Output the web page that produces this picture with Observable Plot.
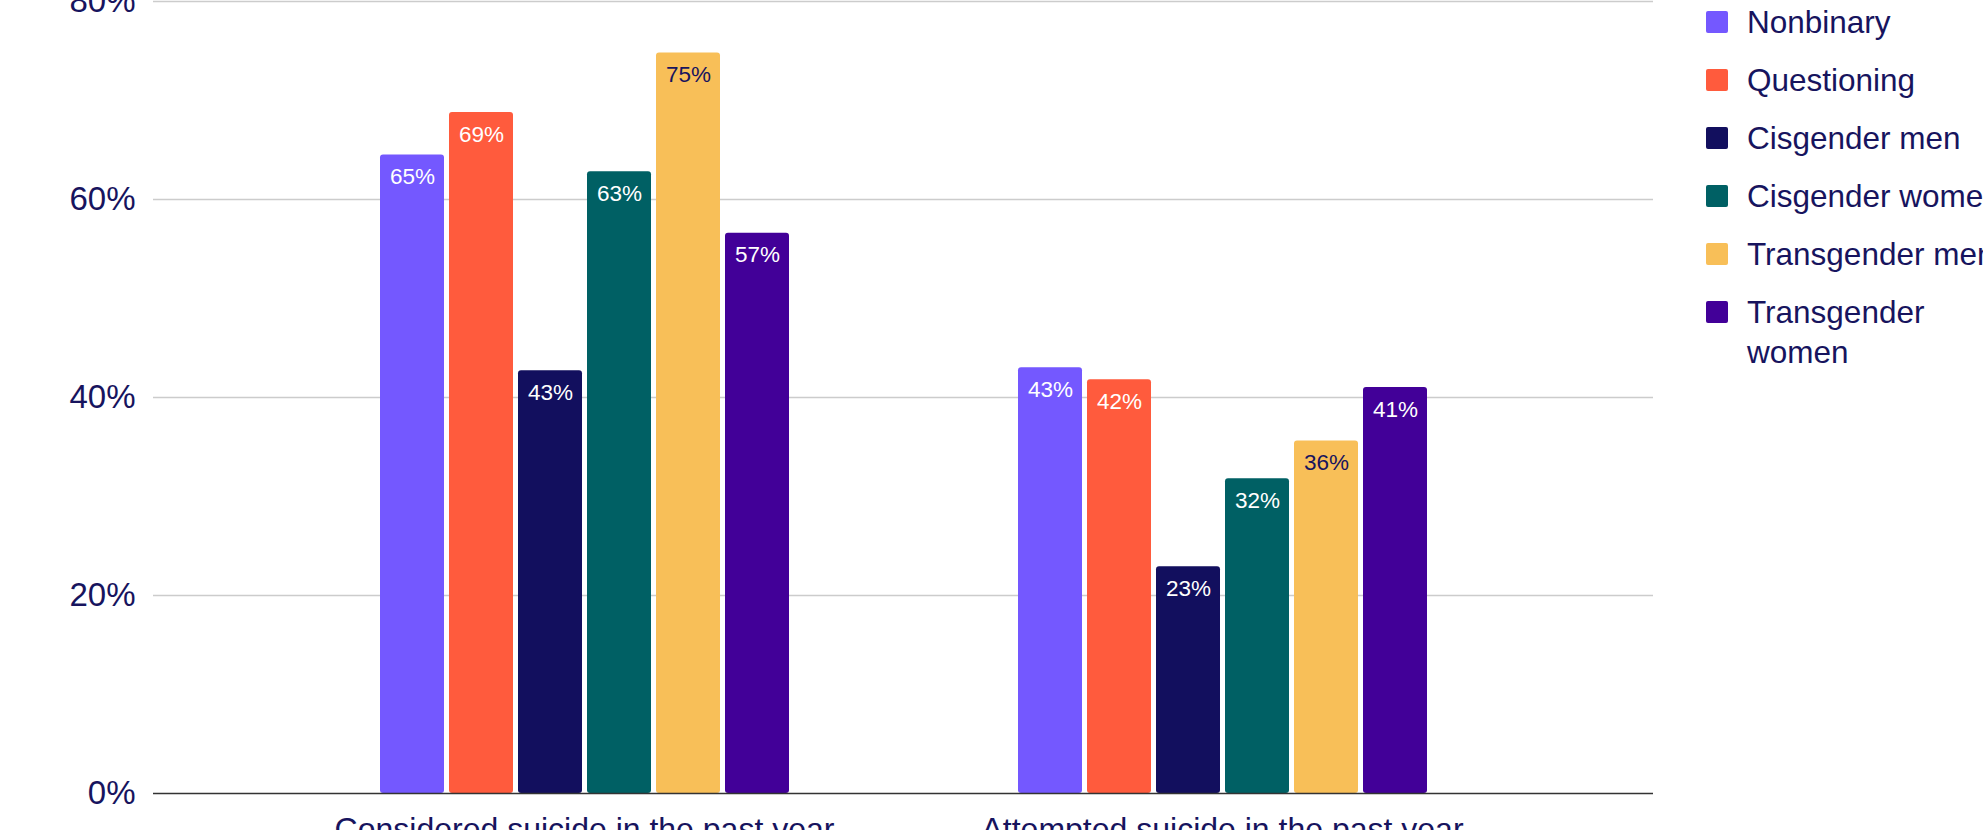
<!DOCTYPE html>
<html><head><meta charset="utf-8">
<script src="https://cdn.jsdelivr.net/npm/d3@7"></script>
<script src="https://cdn.jsdelivr.net/npm/@observablehq/plot@0.6"></script>
<style>
html,body{margin:0;padding:0;background:#fff;overflow:hidden;width:1983px;height:830px;}
#wrap{position:relative;width:1983px;height:830px;overflow:hidden;font-family:"Liberation Sans",Arial,sans-serif;}
.layer{position:absolute;left:0;top:0;}
#legend{position:absolute;left:1706px;top:2px;}
.item{display:flex;align-items:flex-start;margin-bottom:18px;}
.sw{width:22px;height:22px;border-radius:2px;margin-top:9px;flex:none;}
.lab{margin-left:19px;width:272px;font-size:31.5px;line-height:40px;color:#17145e;}
</style></head>
<body><div id="wrap"><div id="back" class="layer"></div><div id="bars" class="layer"></div><div id="front" class="layer"></div><div id="legend"></div></div>
<script>
const categories = ["Considered suicide in the past year", "Attempted suicide in the past year"];
const genders = ["Nonbinary", "Questioning", "Cisgender men", "Cisgender women", "Transgender men", "Transgender women"];
const considered = [64.5, 68.8, 42.7, 62.8, 74.8, 56.6];
const attempted = [43.0, 41.8, 22.9, 31.8, 35.6, 41.0];
const colors = ["#7458ff", "#ff5b3d", "#120f5e", "#006064", "#f8bf58", "#420098"];
const yTicks = [0, 20, 40, 60, 80];
const gridTicks = [20, 40, 60, 80];

const textColor = "#17145e";
const series = [considered, attempted];
const data = [];
categories.forEach((c, i) => genders.forEach((g, j) => data.push({category: c, gender: g, value: series[i][j]})));

const frame = {
  width: 1983,
  height: 853,
  marginTop: 1,
  marginBottom: 60,
  marginLeft: 153,
  marginRight: 330
};
const fontFamily = '"Liberation Sans", Arial, sans-serif';

// back layer: gridlines and y tick labels
const back = Plot.plot({
  ...frame,
  style: {fontFamily, color: textColor, background: "white", overflow: "visible"},
  y: {domain: [0, 80], axis: null},
  marks: [
    Plot.ruleY(gridTicks, {y: d => d, stroke: "#cccccc", strokeWidth: 1.5}),
    Plot.text(yTicks, {y: d => d, text: d => d + "%", frameAnchor: "left", textAnchor: "end", dx: -18, fontSize: 33, fill: textColor})
  ]
});
document.getElementById("back").appendChild(back);

// bars layer: grouped bars via fx facets
const bars = Plot.plot({
  ...frame,
  style: {fontFamily, color: textColor, background: "transparent"},
  fx: {domain: categories, paddingInner: 0.354, paddingOuter: 0.3525, axis: null, label: null},
  x: {domain: genders, paddingInner: 0.075, paddingOuter: 0, axis: null},
  y: {domain: [0, 80], axis: null},
  color: {domain: genders, range: colors},
  marks: [
    Plot.barY(data, {fx: "category", x: "gender", y: "value", fill: "gender", rx: 3}),
    Plot.text(data, {filter: d => d.gender !== "Transgender men", fx: "category", x: "gender", y: "value", text: d => Math.round(d.value) + "%", dy: 22, fill: "white", fontSize: 22.5, lineAnchor: "middle"}),
    Plot.text(data, {filter: d => d.gender === "Transgender men", fx: "category", x: "gender", y: "value", text: d => Math.round(d.value) + "%", dy: 22, fill: textColor, fontSize: 22.5, lineAnchor: "middle"}),
    Plot.axisFx({anchor: "bottom", tickSize: 0, tickPadding: 24, fontSize: 32, label: null, color: textColor})
  ]
});
document.getElementById("bars").appendChild(bars);

// front layer: baseline
const front = Plot.plot({
  ...frame,
  style: {fontFamily, background: "transparent"},
  y: {domain: [0, 80], axis: null},
  marks: [
    Plot.ruleY([0], {y: d => d, stroke: "#333333", strokeWidth: 1.5})
  ]
});
document.getElementById("front").appendChild(front);

const legend = document.getElementById("legend");
genders.forEach((g, i) => {
  const item = document.createElement("div");
  item.className = "item";
  const sw = document.createElement("div");
  sw.className = "sw";
  sw.style.background = colors[i];
  const lab = document.createElement("div");
  lab.className = "lab";
  lab.textContent = g;
  item.appendChild(sw);
  item.appendChild(lab);
  legend.appendChild(item);
});
</script>
</body></html>
